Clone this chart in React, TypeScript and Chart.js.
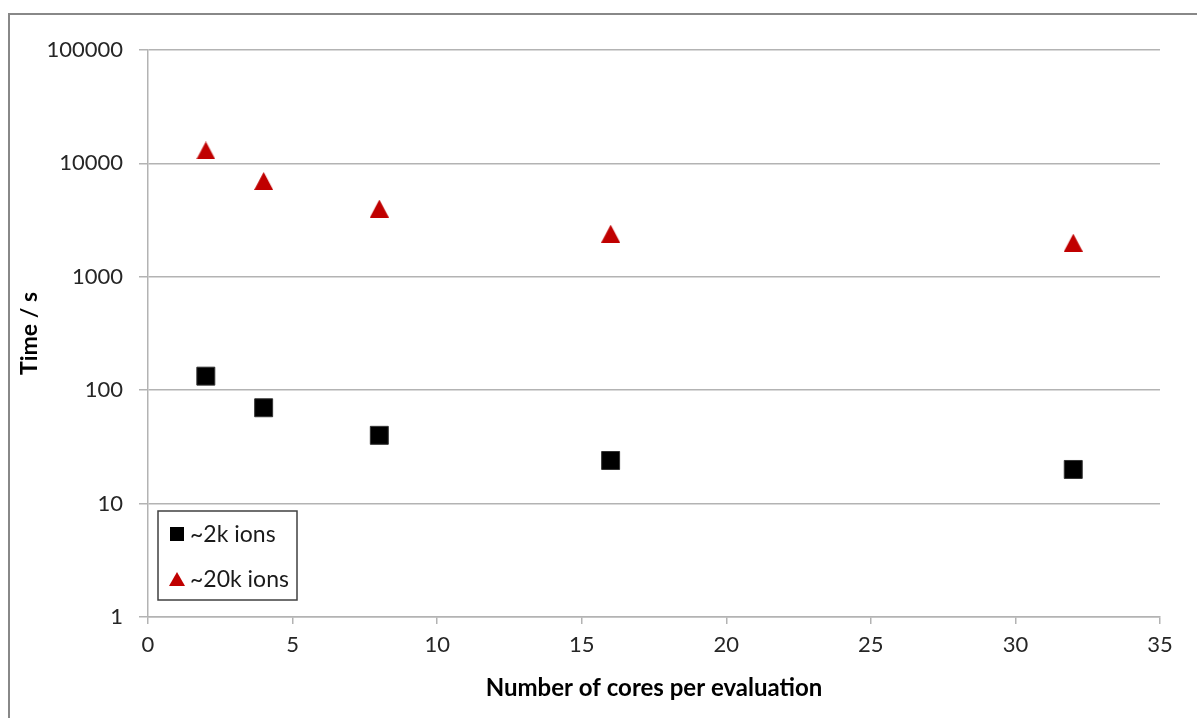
import React, { useEffect, useRef } from "react";
import { Chart, registerables } from "chart.js";

Chart.register(...registerables);

const cores = [2, 4, 8, 16, 32];
const time2k = [133, 70, 40, 24, 20];
const time20k = [13000, 7000, 4000, 2400, 2000];
const seriesLabels = ["~2k ions", "~20k ions"];
const yTickValues = [1, 10, 100, 1000, 10000, 100000];
const xTitle = "Number of cores per evaluation";
const yTitle = "Time / s";

const FONT = "Lato, 'Open Sans', sans-serif";
const GRID = "#b3b3b3";
const RED = "#c00000";

function makeTriangle(w: number, h: number, color: string) {
  const c = document.createElement("canvas");
  c.width = w;
  c.height = h;
  const g = c.getContext("2d")!;
  g.fillStyle = color;
  g.beginPath();
  g.moveTo(w / 2, 0);
  g.lineTo(w, h);
  g.lineTo(0, h);
  g.closePath();
  g.fill();
  return c;
}

const legendBoxPlugin = {
  id: "legendBox",
  afterDraw(chart: any) {
    const { ctx, chartArea } = chart;
    const left = chartArea.left + 10;
    const top = chartArea.bottom - 106;
    const w = 139;
    const h = 89;
    ctx.save();
    ctx.fillStyle = "#ffffff";
    ctx.fillRect(left, top, w, h);
    ctx.strokeStyle = "#404040";
    ctx.lineWidth = 1.5;
    ctx.strokeRect(left, top, w, h);
    ctx.font = `23px ${FONT}`;
    ctx.textBaseline = "middle";
    ctx.textAlign = "left";
    chart.data.datasets.forEach((ds: any, i: number) => {
      const cy = top + 23 + i * 45;
      const cx = left + 19;
      ctx.fillStyle = ds.legendColor;
      if (i === 0) {
        ctx.fillRect(cx - 7, cy - 7, 14, 14);
      } else {
        ctx.beginPath();
        ctx.moveTo(cx, cy - 7);
        ctx.lineTo(cx + 8, cy + 7);
        ctx.lineTo(cx - 8, cy + 7);
        ctx.closePath();
        ctx.fill();
      }
      ctx.fillStyle = "#1a1a1a";
      ctx.fillText(ds.label, left + 32, cy + 1);
    });
    ctx.restore();
  },
};

export default function App() {
  const ref = useRef<HTMLCanvasElement>(null);
  useEffect(() => {
    if (!ref.current) return;
    const tri = makeTriangle(19, 18, RED);
    const chart = new Chart(ref.current, {
      type: "scatter",
      data: {
        datasets: [
          {
            label: seriesLabels[0],
            data: cores.map((c, i) => ({ x: c, y: time2k[i] })),
            pointStyle: "rect",
            pointRadius: 12.7,
            backgroundColor: "#000000",
            borderColor: "#333333",
            borderWidth: 1,
            legendColor: "#000000",
          } as any,
          {
            label: seriesLabels[1],
            data: cores.map((c, i) => ({ x: c, y: time20k[i] })),
            pointStyle: tri,
            pointRadius: 10,
            backgroundColor: RED,
            borderColor: RED,
            borderWidth: 0,
            legendColor: RED,
          } as any,
        ],
      },
      options: {
        animation: false,
        responsive: false,
        maintainAspectRatio: false,
        layout: { padding: { left: 0, top: 50, right: 37, bottom: 0 } },
        plugins: { legend: { display: false }, tooltip: { enabled: false } },
        scales: {
          x: {
            type: "linear",
            min: 0,
            max: 35,
            ticks: {
              stepSize: 5,
              color: "#262626",
              font: { family: FONT, size: 22 },
              padding: 8,
            },
            grid: {
              drawOnChartArea: false,
              drawTicks: true,
              tickLength: 7,
              color: GRID,
              lineWidth: 1.5,
            },
            border: { display: true, color: GRID, width: 1.5 },
            title: {
              display: true,
              text: xTitle,
              color: "#000000",
              font: { family: FONT, size: 24, weight: "bold" },
              padding: { top: 0, bottom: 15 },
            },
            afterFit(scale: any) {
              scale.height = 101;
            },
          },
          y: {
            type: "logarithmic",
            min: 1,
            max: 100000,
            afterBuildTicks(scale: any) {
              scale.ticks = yTickValues.map((v) => ({ value: v }));
            },
            ticks: {
              color: "#262626",
              font: { family: FONT, size: 22 },
              padding: 16,
              callback: (v: any) => String(v),
            },
            grid: {
              drawOnChartArea: true,
              drawTicks: true,
              tickLength: 9,
              color: GRID,
              lineWidth: 1.5,
            },
            border: { display: true, color: GRID, width: 1.5 },
            title: {
              display: true,
              text: yTitle,
              color: "#000000",
              font: { family: FONT, size: 23, weight: "bold" },
              padding: { top: 16, bottom: 0 },
            },
            afterFit(scale: any) {
              scale.width = 148;
            },
          },
        },
      },
      plugins: [legendBoxPlugin],
    });
    return () => chart.destroy();
  }, []);

  return (
    <div style={{ position: "fixed", left: 0, top: 0, width: 1197, height: 718, overflow: "hidden", background: "#fff" }}>
      <div
        style={{
          position: "absolute",
          left: 8,
          top: 13,
          width: 1300,
          height: 800,
          border: "2px solid #888888",
        }}
      />
      <canvas ref={ref} width={1197} height={718} style={{ position: "absolute", left: 0, top: 0 }} />
    </div>
  );
}
